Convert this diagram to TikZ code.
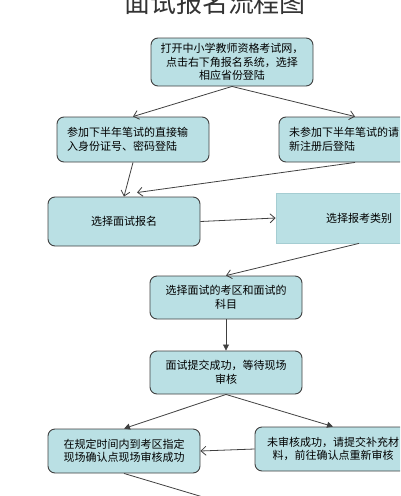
\documentclass[tikz,border=0pt]{standalone}
\usepackage{fontspec}
\setmainfont{Noto Sans CJK SC}
\usepackage{tikz}
\usetikzlibrary{arrows.meta}
\definecolor{boxfill}{RGB}{186,224,228}
\definecolor{boxline}{RGB}{64,64,64}
\definecolor{paleline}{RGB}{165,205,210}
\tikzset{
    stepbox/.style={
        rectangle,
        rounded corners=7pt, % 圆角
        draw=boxline, % 边框颜色为深灰
        fill=boxfill, % 填充为浅青色
        line width=0.9pt,
        inner sep=0,
        align=center,
        font=\fontsize{11}{13.5}\selectfont
    },
    flatbox/.style={
        rectangle,
        draw=paleline, % 边框颜色较浅
        fill=boxfill,
        line width=0.8pt,
        inner sep=0,
        align=center,
        font=\fontsize{11}{13.5}\selectfont
    },
    link/.style={
        draw=boxline,
        line width=0.8pt,
        -{Straight Barb[length=5pt,width=9pt]}
    },
    solidlink/.style={
        draw=boxline,
        line width=0.8pt,
        -{Triangle[length=6pt,width=6pt]}
    }
}
\begin{document}
\begin{tikzpicture}[x=1pt,y=1pt]
    \clip (0,0) rectangle (400,-496);
    % 标题
    \node[font=\fontsize{26}{30}\selectfont, text=black!80] (title) at (215,-3) {面试报名流程图};
    % 流程框
    \node[stepbox, minimum width=162pt, minimum height=48pt] (sign) at (232,-62)
        {打开中小学教师资格考试网，\\点击右下角报名系统，选择\\相应省份登陆};
    \node[stepbox, minimum width=152pt, minimum height=45pt, align=left, text width=132pt] (oldlogin) at (133,-139.5)
        {参加下半年笔试的直接输\\入身份证号、密码登陆};
    \node[stepbox, minimum width=152pt, minimum height=45pt, align=left, text width=132pt] (newlogin) at (355,-139.5)
        {未参加下半年笔试的请\\新注册后登陆};
    \node[stepbox, minimum width=152pt, minimum height=49pt] (choose) at (124,-221.5) {选择面试报名};
    \node[flatbox, minimum width=166pt, minimum height=50pt] (kind) at (359,-218) {选择报考类别};
    \node[stepbox, minimum width=152pt, minimum height=43pt] (area) at (226,-297.5)
        {选择面试的考区和面试的\\科目};
    \node[stepbox, minimum width=152pt, minimum height=43pt] (submit) at (226,-372.5)
        {面试提交成功，等待现场\\审核};
    \node[stepbox, minimum width=152pt, minimum height=44pt] (check) at (124,-451)
        {在规定时间内到考区指定\\现场确认点现场审核成功};
    \node[stepbox, minimum width=156pt, minimum height=44pt] (redo) at (333,-449)
        {未审核成功，请提交补充材\\料，前往确认点重新审核};
    \coordinate (next) at (213,-500);
    % 连线
    \draw[link] (sign.south) -- (oldlogin.north);
    \draw[link] (sign.south) -- (newlogin.north);
    \draw[link] (oldlogin.south) -- (choose.north);
    \draw[link] (newlogin.south) -- ([xshift=13pt,yshift=4pt]choose.north);
    \draw[link] (choose.east) -- (kind.west);
    \draw[link] (kind.south) -- (area.north);
    \draw[solidlink] (area.south) -- (submit.north);
    \draw[solidlink] (submit.south) -- (check.north);
    \draw[solidlink] (submit.south) -- (redo.north);
    \draw[link] (redo.west) -- (check.east);
    \draw[boxline, line width=0.8pt] (check.south) -- (next);
\end{tikzpicture}
\end{document}
